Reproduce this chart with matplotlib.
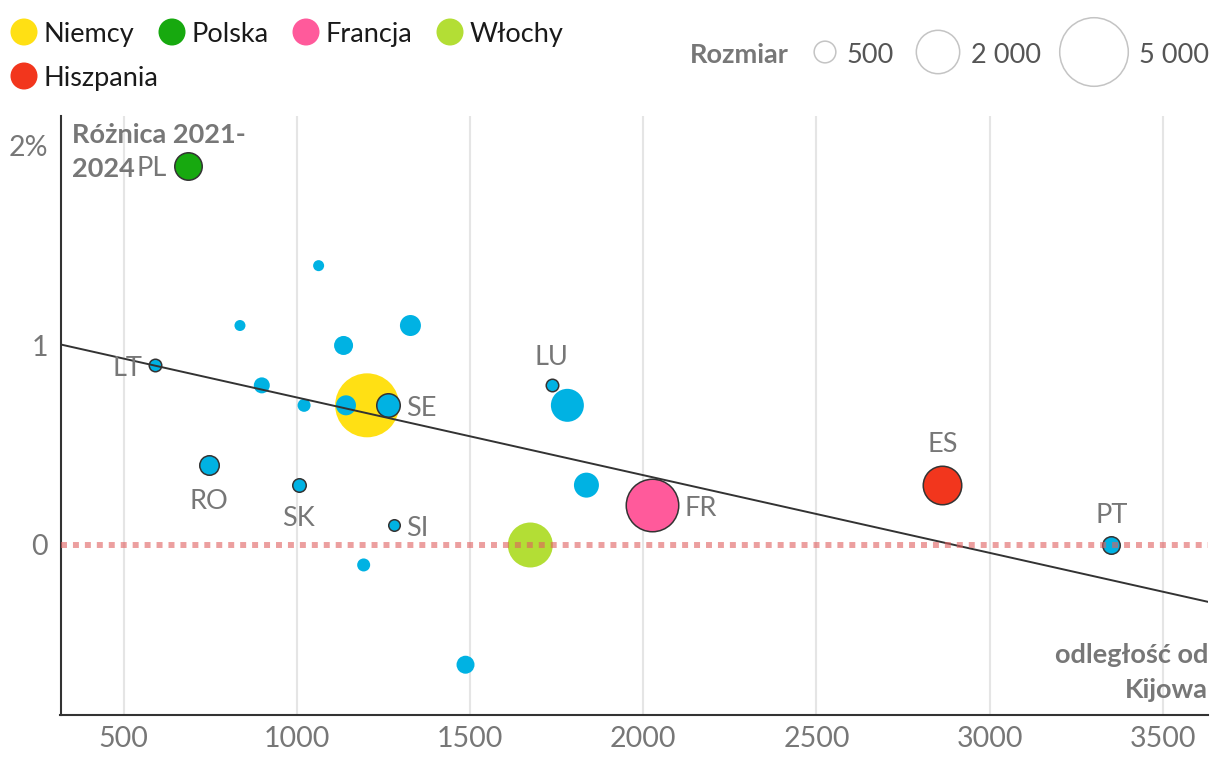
import numpy as np
import matplotlib
matplotlib.use('Agg')
import matplotlib.pyplot as plt
from matplotlib.patches import Circle

plt.rcParams['font.family'] = ['Lato', 'DejaVu Sans']

# Data
codes = ['PL', 'DE', 'FR', 'IT', 'ES', 'LT', 'RO', 'SK', 'SI', 'SE', 'LU', 'PT',
         '', '', '', '', '', '', '', '', '', '', '']
distance = [685, 1203, 2024, 1674, 2863, 591, 747, 1005, 1280, 1263, 1736, 3351,
            1063, 836, 1135, 1328, 899, 1021, 1142, 1193, 1487, 1781, 1836]
difference = [1.9, 0.7, 0.2, 0.0, 0.3, 0.9, 0.4, 0.3, 0.1, 0.7, 0.8, 0.0,
              1.4, 1.1, 1.0, 1.1, 0.8, 0.7, 0.7, -0.1, -0.6, 0.7, 0.3]
bubble = [800, 4350, 2930, 2150, 1575, 166, 404, 194, 141, 587, 166, 325,
          129, 129, 384, 469, 272, 180, 425, 180, 344, 1157, 664]
labelled = ['PL', 'FR', 'ES', 'LT', 'RO', 'SK', 'SI', 'SE', 'LU', 'PT']

trend_intercept = 1.129
trend_slope = -0.0003895

legend_names = ['Niemcy', 'Polska', 'Francja', 'Włochy', 'Hiszpania']
legend_codes = ['DE', 'PL', 'FR', 'IT', 'ES']
size_legend = [500, 2000, 5000]
size_legend_text = ['500', '2 000', '5 000']

# Styles
colors = {'DE': '#ffe014', 'PL': '#17a90f', 'FR': '#ff5a9b', 'IT': '#b3de35', 'ES': '#f2361d'}
blue = '#00b2e3'
label_side = {'PL': 'left', 'LT': 'left', 'SE': 'right', 'SI': 'right', 'FR': 'right',
              'RO': 'below', 'SK': 'below', 'LU': 'above', 'ES': 'above', 'PT': 'above'}
grey = '#777777'
PX = 0.72  # points per pixel at dpi 100
FS = 19.5


def radius_px(v):
    return 0.485 * np.sqrt(v)


fig = plt.figure(figsize=(12.2, 7.72), dpi=100)
ax = fig.add_axes([60.5 / 1220, 1 - 715 / 772, (1208 - 60.5) / 1220, (715 - 116) / 772])
ax.set_xlim(318, 3630)
ax.set_ylim(-0.852, 2.15)

for s in ['top', 'right']:
    ax.spines[s].set_visible(False)
for s in ['left', 'bottom']:
    ax.spines[s].set_color('#333333')
    ax.spines[s].set_linewidth(1.5)

ax.set_xticks([500, 1000, 1500, 2000, 2500, 3000, 3500])
ax.set_yticks([0, 1, 2])
ax.set_yticklabels(['0', '1', '2%'])
ax.tick_params(axis='both', length=0, labelsize=20.5, labelcolor=grey)
ax.tick_params(axis='x', pad=8)
ax.tick_params(axis='y', pad=9)
ax.grid(axis='x', color='#e5e5e5', linewidth=1.5)
ax.set_axisbelow(True)

# bubbles, biggest first
order = np.argsort(bubble)[::-1]
for i in order:
    c = codes[i]
    col = colors.get(c, blue)
    outlined = c in labelled
    d = 2 * radius_px(bubble[i]) * PX
    ax.scatter(distance[i], difference[i], s=d ** 2, color=col,
               edgecolors='#333333' if outlined else 'none',
               linewidths=1.1 if outlined else 0, zorder=3 + (1 if outlined else 0))

# trend line
xs = np.array(ax.get_xlim())
ax.plot(xs, trend_intercept + trend_slope * xs, color='#333333', linewidth=1.4, zorder=5)

# zero line
ax.axhline(0, color='#e06060', alpha=0.6, linewidth=4.3, linestyle=(0, (1, 1)), zorder=6)

# point labels
for i, c in enumerate(codes):
    if c not in label_side:
        continue
    r = radius_px(bubble[i]) + 0.75
    side = label_side[c]
    if side == 'left':
        off, ha = (-(r + 6) * PX, -10.5 * PX), 'right'
    elif side == 'right':
        off, ha = ((r + 6) * PX, -10.5 * PX), 'left'
    elif side == 'above':
        off, ha = (0, (r + 13) * PX), 'center'
    else:
        off, ha = (0, -(r + 33) * PX), 'center'
    ax.annotate(c, (distance[i], difference[i]), xytext=off, textcoords='offset points',
                ha=ha, va='baseline', fontsize=FS, color=grey, zorder=7)

# overlay in pixel coordinates for titles and legends
lay = fig.add_axes([0, 0, 1, 1], facecolor='none')
lay.set_xlim(0, 1220)
lay.set_ylim(772, 0)
lay.axis('off')

lay.text(72, 143, 'Różnica 2021-', fontsize=FS, fontweight='bold', color=grey, va='baseline')
lay.text(72, 177, '2024', fontsize=FS, fontweight='bold', color=grey, va='baseline')
lay.text(1208, 663, 'odległość od', fontsize=FS, fontweight='bold', color=grey,
         va='baseline', ha='right')
lay.text(1208, 698, 'Kijowa', fontsize=FS, fontweight='bold', color=grey,
         va='baseline', ha='right')

leg_pos = [(24, 32), (172, 32), (306, 32), (450, 32), (24, 76)]
for (cx, cy), name, c in zip(leg_pos, legend_names, legend_codes):
    lay.add_patch(Circle((cx, cy), 13.5, color=colors[c], lw=0))
    lay.text(cx + 20, cy + 10, name, fontsize=FS, color='#1a1a1a', va='baseline')

lay.text(690, 63, 'Rozmiar', fontsize=FS, fontweight='bold', color=grey, va='baseline')
size_x = [825, 938, 1094]
for cx, v, t in zip(size_x, size_legend, size_legend_text):
    r = radius_px(v)
    lay.add_patch(Circle((cx, 52), r, facecolor='none', edgecolor='#c4c4c4', lw=1.1))
    lay.text(cx + r + 11, 63, t, fontsize=FS, color='#555555', va='baseline')

fig.savefig('out.png', dpi=100)
